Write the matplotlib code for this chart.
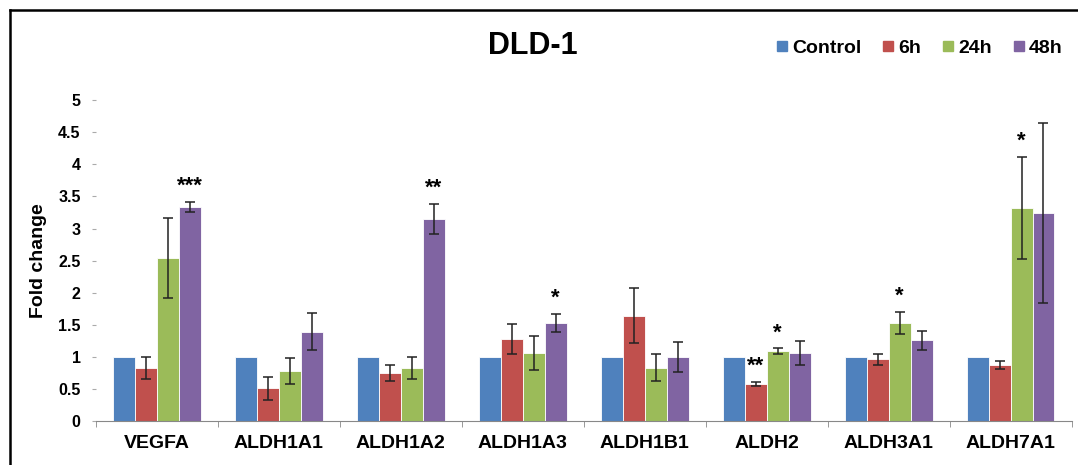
import matplotlib.pyplot as plt
import numpy as np
from matplotlib.lines import Line2D

plt.rcParams['font.family'] = ['Liberation Sans', 'DejaVu Sans']

genes = ['VEGFA', 'ALDH1A1', 'ALDH1A2', 'ALDH1A3', 'ALDH1B1', 'ALDH2', 'ALDH3A1', 'ALDH7A1']
groups = ['Control', '6h', '24h', '48h']
colors = ['#4F81BD', '#C0504D', '#9BBB59', '#8064A2']

control = [1, 1, 1, 1, 1, 1, 1, 1]
h6 = [0.83, 0.51, 0.75, 1.28, 1.64, 0.58, 0.96, 0.87]
h24 = [2.54, 0.78, 0.83, 1.06, 0.83, 1.09, 1.53, 3.32]
h48 = [3.33, 1.39, 3.15, 1.53, 1.00, 1.06, 1.26, 3.24]

err_6h = [0.17, 0.18, 0.12, 0.23, 0.43, 0.03, 0.08, 0.06]
err_24h = [0.63, 0.20, 0.17, 0.26, 0.21, 0.04, 0.17, 0.79]
err_48h = [0.08, 0.29, 0.23, 0.14, 0.23, 0.18, 0.15, 1.40]

# significance marks: (gene index, series index, label)
stars = [(0, 3, '***'), (2, 3, '**'), (3, 3, '*'), (5, 1, '**'),
         (5, 2, '*'), (6, 2, '*'), (7, 2, '*')]

values = [control, h6, h24, h48]
errors = [None, err_6h, err_24h, err_48h]

fig = plt.figure(figsize=(10.78, 4.65), dpi=100)
ax = fig.add_axes([0.089, 0.0946, 0.905, 0.690])

x = np.arange(len(genes))
w = 0.18
for i, (vals, errs) in enumerate(zip(values, errors)):
    pos = x + (i - 1.5) * w
    ax.bar(pos, vals, width=w, color=colors[i], edgecolor='white', linewidth=0.6, zorder=2)
    if errs is not None:
        ax.errorbar(pos, vals, yerr=errs, fmt='none', ecolor='#222222',
                    elinewidth=1.1, capsize=3.5, capthick=1.1, zorder=3)

for gi, si, lab in stars:
    top = values[si][gi] + (errors[si][gi] if errors[si] else 0)
    ax.text(x[gi] + (si - 1.5) * w, top + 0.08, lab, ha='center', va='bottom',
            fontsize=16, fontweight='bold')

ax.set_xlim(-0.5, len(genes) - 0.5)
ax.set_ylim(0, 5)
ax.set_yticks(np.arange(0, 5.01, 0.5))
ax.set_yticklabels(['0', '0.5', '1', '1.5', '2', '2.5', '3', '3.5', '4', '4.5', '5'],
                   fontsize=11.5, fontweight='bold')
ax.set_xticks(x)
ax.set_xticklabels(genes, fontsize=14, fontweight='bold')
ax.set_xticks(np.arange(-0.5, len(genes)), minor=True)
ax.tick_params(axis='x', which='major', length=0, pad=10)
ax.tick_params(axis='x', which='minor', length=4, color='#888888', direction='out')
ax.tick_params(axis='y', length=3, color='#aaaaaa', pad=8)
for s in ['top', 'right', 'left']:
    ax.spines[s].set_visible(False)
ax.spines['bottom'].set_color('#888888')
ax.set_ylabel('Fold change', fontsize=14, fontweight='bold', labelpad=8)

fig.text(533 / 1078, 1 - 46 / 465, 'DLD-1', ha='center', va='center',
         fontsize=22, fontweight='bold')

handles = [Line2D([], [], marker='s', linestyle='none', markersize=6.5,
                  markerfacecolor=c, markeredgecolor=c) for c in colors]
fig.legend(handles, groups, ncol=4, loc='center right',
           bbox_to_anchor=(1070 / 1078, 1 - 48 / 465), frameon=False,
           prop={'weight': 'bold', 'size': 14}, handletextpad=0.1,
           columnspacing=1.0, handlelength=0.8, borderaxespad=0)

# frame around the figure (left and top edges)
fig.add_artist(Line2D([10 / 1078, 10 / 1078], [0, 1 - 10 / 465], color='black', lw=1.8))
fig.add_artist(Line2D([10 / 1078, 1], [1 - 10 / 465, 1 - 10 / 465], color='black', lw=1.8))

fig.savefig('out.png', dpi=100)
